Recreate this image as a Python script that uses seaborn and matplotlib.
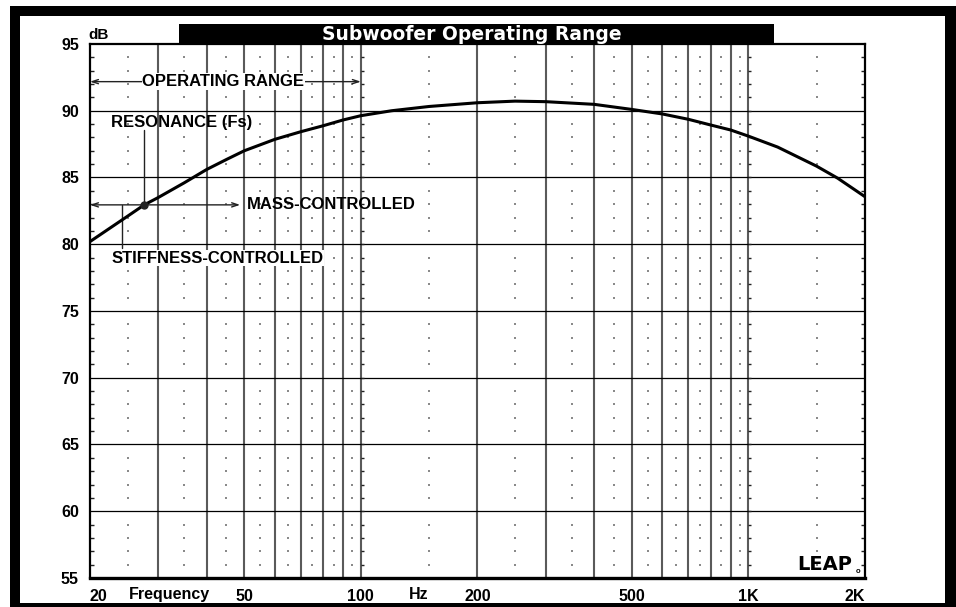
import matplotlib
matplotlib.use("Agg")
import matplotlib.pyplot as plt
from matplotlib.patches import Rectangle
import seaborn as sns
import pandas as pd

# ---- data ----
freq_hz = [20, 25, 27.6, 30, 35, 40, 45, 50, 60, 70, 80, 90, 100, 120, 150, 200, 250,
           300, 400, 500, 600, 700, 800, 900, 1000, 1190, 1500, 1700, 2000]
spl_db = [80.2, 82.1, 82.95, 83.5, 84.6, 85.6, 86.35, 87.0, 87.86, 88.43, 88.88, 89.31,
          89.63, 90.0, 90.32, 90.6, 90.72, 90.68, 90.48, 90.1, 89.76, 89.36, 88.93,
          88.56, 88.1, 87.28, 85.85, 84.95, 83.56]

x_tick_values = [20, 50, 100, 200, 500, 1000, 2000]
x_tick_labels = ["20", "50", "100", "200", "500", "1K", "2K"]
y_tick_values = [55, 60, 65, 70, 75, 80, 85, 90, 95]
y_tick_labels = ["55", "60", "65", "70", "75", "80", "85", "90", "95"]

major_x_grid = [30, 40, 50, 60, 70, 80, 90, 100, 200, 300, 400, 500, 600, 700, 800, 900, 1000]
minor_x_dots = [25, 35, 45, 55, 65, 75, 85, 95, 150, 250, 350, 450, 550, 650, 750,
                850, 950, 1500]
major_y_grid = [60, 65, 70, 75, 80, 85, 90]

title_text = "Subwoofer Operating Range"
fs_resonance_hz = 27.6
fs_resonance_db = 82.95

# ---- figure ----
sns.set_style("white")
plt.rcParams["font.family"] = ["Liberation Sans", "DejaVu Sans"]
plt.rcParams["font.weight"] = "bold"
plt.rcParams["text.color"] = "black"
plt.rcParams["xtick.color"] = "black"
plt.rcParams["ytick.color"] = "black"

W, H = 956, 607
fig = plt.figure(figsize=(W / 100, H / 100), dpi=100)
fig.patch.set_facecolor("white")

def fx(px):
    return px / W

def fy(py):
    return (H - py) / H

# black frame
fig.patches.append(Rectangle((fx(10), fy(607)), fx(956) - fx(10), fy(6) - fy(607),
                             transform=fig.transFigure, facecolor="black",
                             edgecolor="none", zorder=-3))
fig.patches.append(Rectangle((fx(20), fy(603)), fx(945) - fx(20), fy(16) - fy(603),
                             transform=fig.transFigure, facecolor="white",
                             edgecolor="none", zorder=-2))
# title bar
fig.patches.append(Rectangle((fx(179), fy(43)), fx(774) - fx(179), fy(24) - fy(43),
                             transform=fig.transFigure, facecolor="black",
                             edgecolor="none", zorder=-1))
fig.text(fx(472), fy(34), title_text, color="white", ha="center", va="center",
         fontsize=13.5, fontweight="bold", family="DejaVu Sans", zorder=5)

ax = fig.add_axes([fx(90), fy(578), fx(865) - fx(90), fy(44) - fy(578)])
ax.set_zorder(1)
ax.set_facecolor("white")
ax.set_xscale("log")
ax.set_xlim(20, 2000)
ax.set_ylim(55, 95)

# grid
for f in major_x_grid:
    ax.axvline(f, color="#5a5a5a", lw=1.5, zorder=1)
for d in major_y_grid:
    ax.axhline(d, color="black", lw=0.9, zorder=1)
dot_y = [d for d in range(56, 95) if d % 5 != 0]
dots = pd.DataFrame([(f, d) for f in minor_x_dots for d in dot_y], columns=["f", "d"])
ax.scatter(dots["f"], dots["d"], s=0.7, color="#8a8a8a", marker="s", linewidths=0, zorder=1)

# small dashes on the 100 Hz and 1 kHz lines
for f in (100, 1000):
    ax.hlines(list(range(56, 95)), f, f * 10 ** (3 / 389),
              color="#222222", lw=1.0, zorder=2)

# curve
df = pd.DataFrame({"Frequency": freq_hz, "dB": spl_db})
sns.lineplot(data=df, x="Frequency", y="dB", ax=ax, color="black", lw=2.2,
             zorder=5, sort=True, estimator=None)
ax.set_xlabel("")
ax.set_ylabel("")

# annotations
lw_ann = 1.0
ann_col = "#222222"
ann_fs = 12
ax.annotate("", xy=(20, 92.18), xytext=(100, 92.18),
            arrowprops=dict(arrowstyle="<->,head_length=0.45,head_width=0.15",
                            color=ann_col, lw=lw_ann, shrinkA=0, shrinkB=0), zorder=4)
ax.text(44.2, 92.18, "OPERATING RANGE", ha="center", va="center", fontsize=ann_fs,
        fontweight="bold", zorder=6,
        bbox=dict(facecolor="white", edgecolor="none", pad=0.6))
ax.text(22.7, 89.1, "RESONANCE (Fs)", ha="left", va="center", fontsize=ann_fs,
        fontweight="bold", zorder=6)
ax.plot([fs_resonance_hz, fs_resonance_hz], [88.55, fs_resonance_db], color=ann_col,
        lw=lw_ann, zorder=4)
ax.annotate("", xy=(20, fs_resonance_db), xytext=(48.8, fs_resonance_db),
            arrowprops=dict(arrowstyle="<->,head_length=0.45,head_width=0.15",
                            color=ann_col, lw=lw_ann, shrinkA=0, shrinkB=0), zorder=4)
ax.text(50.7, fs_resonance_db, "MASS-CONTROLLED", ha="left", va="center", fontsize=ann_fs,
        fontweight="bold", zorder=6)
ax.plot([24.2, 24.2], [fs_resonance_db, 79.7], color=ann_col, lw=lw_ann, zorder=4)
ax.text(22.7, 78.97, "STIFFNESS-CONTROLLED", ha="left", va="center", fontsize=ann_fs,
        fontweight="bold", zorder=6,
        bbox=dict(facecolor="white", edgecolor="none", pad=0.3))
ax.plot([fs_resonance_hz], [fs_resonance_db], marker="o", ms=5, color="#222222", zorder=6)

# dB label
fig.text(fx(88), fy(35), "dB", ha="left", va="center", fontsize=11, fontweight="bold",
         color="black")

# LEAP logo
ax.text(0.983, 0.008, "LEAP", transform=ax.transAxes, ha="right", va="bottom",
        fontsize=14, fontweight="heavy", family="DejaVu Sans", zorder=6)
ax.text(0.991, 0.012, "o", transform=ax.transAxes, ha="center", va="center",
        fontsize=5.5, zorder=6)

# ticks
tick_fs = 11.5
ax.set_xticks(x_tick_values)
ax.set_xticklabels(x_tick_labels, fontsize=tick_fs, fontweight="bold")
ax.xaxis.set_minor_locator(matplotlib.ticker.NullLocator())
ax.set_yticks(y_tick_values)
ax.set_yticklabels(y_tick_labels, fontsize=tick_fs, fontweight="bold")
ax.set_yticks(list(range(56, 95)), minor=True)
ax.tick_params(axis="x", which="major", length=0, pad=8, colors="black")
ax.tick_params(axis="y", which="major", length=0, pad=8, colors="black")
ax.tick_params(axis="y", which="minor", direction="in", length=3, width=1,
               left=True, right=True, color="#222222")
labels = ax.get_xticklabels()
labels[0].set_ha("left")
labels[-1].set_ha("right")

xt = ax.get_xaxis_transform()
ax.text(32.1, -0.03, "Frequency", transform=xt, ha="center", va="center",
        fontsize=tick_fs, fontweight="bold")
ax.text(141, -0.03, "Hz", transform=xt, ha="center", va="center",
        fontsize=tick_fs, fontweight="bold")

for side in ["left", "right", "top", "bottom"]:
    ax.spines[side].set_visible(True)
    ax.spines[side].set_color("black")
    ax.spines[side].set_linewidth(1.6)
ax.spines["bottom"].set_linewidth(2.4)
ax.grid(False)

fig.savefig("out.png", dpi=100)
